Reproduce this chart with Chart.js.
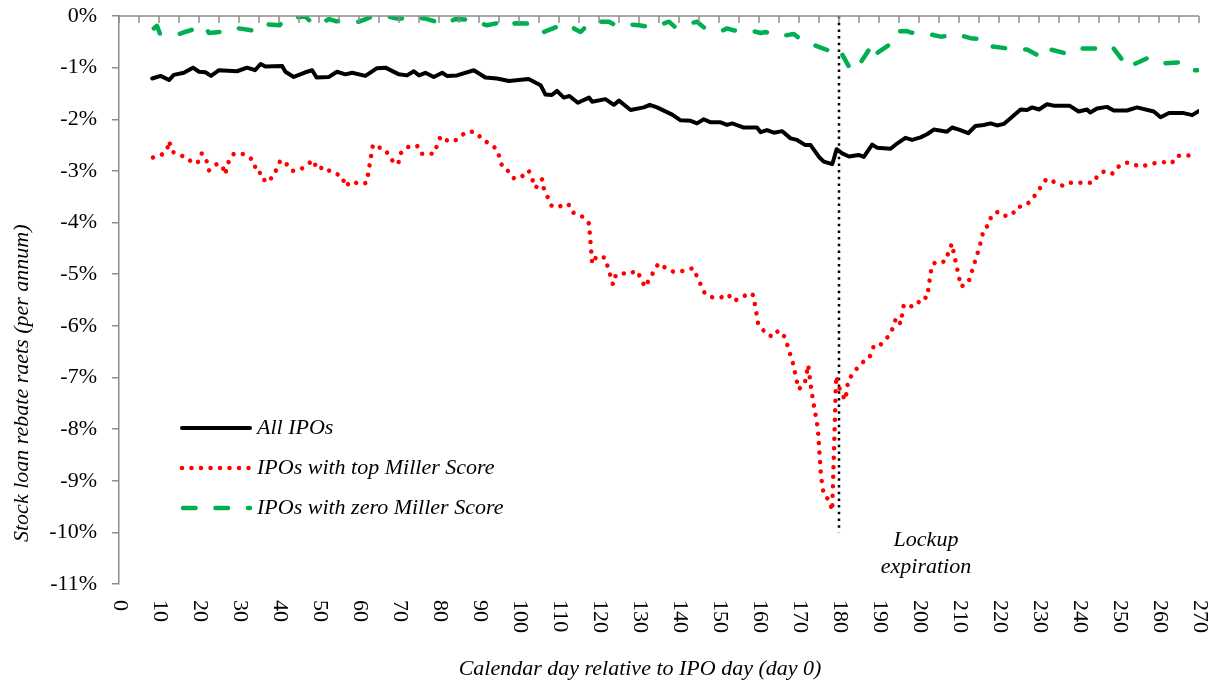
<!DOCTYPE html>
<html>
<head>
<meta charset="utf-8">
<script src="https://cdn.jsdelivr.net/npm/chart.js@4.4.1/dist/chart.umd.min.js"></script>
<style>
  html, body { margin: 0; padding: 0; background: #fff; }
  canvas { display: block; }
</style>
</head>
<body>
<canvas id="chart" width="1214" height="685"></canvas>
<script>
// All IPOs
var allDays = [8.3, 10.4, 12.5, 13.7, 16.2, 18.5, 20, 21.6, 23, 25, 29.5, 32, 34, 35.4, 36.6, 40.8, 41.6, 43.7, 46.6, 48.3,
  49.4, 52.5, 54.5, 56.6, 58.3, 61.6, 64.5, 66.6, 70, 72, 73.7, 75, 76.6, 78.7, 80.8, 82, 84.5, 88.7, 91.6, 94.5,
  97.5, 102.4, 105.4, 106.6, 108.2, 109.5, 111.2, 112.6, 114.7, 117.5, 118.3, 121.6, 123.7, 125, 127.9, 131.2, 132.7, 134.5, 138.3, 140.4,
  142.9, 144.5, 146.2, 147.9, 150.4, 152, 153.3, 156.2, 159.5, 160.4, 162, 163.7, 165.8, 167.9, 169.5, 171.6, 172.9, 175, 176.2, 178.3,
  178.7, 179.4, 180.8, 182.5, 184.9, 186.2, 188.3, 189.5, 192.9, 194.5, 196.6, 198.3, 200.4, 202, 203.7, 207, 208.3, 210, 212.3, 214.1,
  216.2, 217.9, 219.5, 221.2, 223.3, 225.4, 227, 228.3, 230, 232, 234, 237.7, 239.9, 242, 242.8, 244.5, 247, 248.7, 252, 254.5,
  258.7, 260.4, 262.5, 266.2, 268.3, 270];
var allRates = [-1.21, -1.16, -1.24, -1.14, -1.10, -1.00, -1.08, -1.09, -1.16, -1.05, -1.07, -1.00, -1.05, -0.93, -0.98, -0.97, -1.08, -1.18, -1.09, -1.05,
  -1.19, -1.18, -1.08, -1.13, -1.10, -1.16, -1.01, -1.00, -1.13, -1.15, -1.07, -1.15, -1.10, -1.18, -1.10, -1.16, -1.15, -1.05, -1.19, -1.21,
  -1.26, -1.22, -1.34, -1.52, -1.53, -1.45, -1.58, -1.55, -1.68, -1.58, -1.66, -1.61, -1.72, -1.64, -1.82, -1.77, -1.72, -1.77, -1.91, -2.02,
  -2.03, -2.08, -2.00, -2.06, -2.06, -2.11, -2.08, -2.16, -2.16, -2.25, -2.21, -2.26, -2.23, -2.37, -2.40, -2.50, -2.50, -2.73, -2.82, -2.87,
  -2.77, -2.58, -2.66, -2.72, -2.69, -2.73, -2.49, -2.55, -2.57, -2.47, -2.36, -2.40, -2.35, -2.29, -2.20, -2.24, -2.16, -2.20, -2.27, -2.13,
  -2.11, -2.08, -2.12, -2.09, -1.95, -1.81, -1.82, -1.77, -1.81, -1.71, -1.74, -1.74, -1.85, -1.81, -1.87, -1.79, -1.76, -1.83, -1.83, -1.77,
  -1.85, -1.96, -1.88, -1.88, -1.92, -1.84];

// IPOs with top Miller Score
var topDays = [8.5, 10.6, 12, 12.5, 13.4, 15, 17, 18.5, 20, 20.7, 21.9, 22.5, 24.4, 25.8, 26.5, 27.5, 28.7, 30.6, 32.7, 33.9,
  34.2, 35.9, 36.5, 38.5, 40.4, 41.7, 43.3, 45.4, 47, 48.6, 49.5, 51.5, 53, 54.8, 55.9, 56.5, 58.2, 60.4, 61.9, 63.5,
  64.3, 66.5, 67.7, 69.1, 69.9, 70.4, 72, 74.5, 75.6, 77.5, 78.7, 80.4, 82, 83.8, 85.4, 87.4, 89.4, 91, 93, 94.6,
  95.9, 97.7, 98.8, 100.7, 102.4, 104.2, 105.1, 105.8, 106.2, 108.1, 109.8, 111.4, 112.8, 113.7, 116, 117.5, 118.3, 119.4, 121.5, 123.5,
  124.2, 125.4, 127.4, 129.4, 130.5, 131.5, 133.9, 134.9, 136.7, 138.5, 140, 141.6, 143.5, 146.5, 148.4, 150.5, 152.3, 153.5, 155.6, 157.6,
  158.6, 159.8, 160.9, 162.1, 163.7, 164.8, 166.5, 168.5, 169.9, 171.4, 172.3, 173.1, 174.7, 175.5, 176.2, 177.5, 178.3, 179.3, 180.3, 181.6,
  182.3, 183.5, 184.8, 186, 187.5, 188.7, 190, 191.5, 192.9, 194.3, 195.4, 196.2, 197.2, 199.4, 200.6, 202, 203.2, 204.4, 206.5, 208.2,
  210.5, 212.3, 215.1, 216.2, 217.5, 218.1, 219.8, 221.4, 223.3, 224.5, 226.4, 228, 231.9, 234, 236, 237.6, 243.6, 244.8, 246.6, 248.4,
  249.8, 251.6, 253, 255.2, 257.3, 259, 261.2, 263.2, 264.4, 266.2, 268.7];
var topRates = [-2.74, -2.69, -2.60, -2.42, -2.63, -2.69, -2.74, -2.86, -2.82, -2.66, -2.81, -2.99, -2.87, -2.89, -3.07, -2.80, -2.67, -2.66, -2.74, -2.84,
  -3.02, -3.05, -3.22, -3.12, -2.79, -2.85, -3.00, -2.97, -2.88, -2.79, -2.97, -2.92, -3.03, -3.07, -3.12, -3.30, -3.20, -3.26, -3.23, -2.49,
  -2.53, -2.58, -2.73, -2.88, -2.83, -2.66, -2.54, -2.51, -2.67, -2.66, -2.67, -2.33, -2.41, -2.43, -2.32, -2.23, -2.26, -2.41, -2.48, -2.60,
  -2.94, -3.02, -3.15, -3.11, -2.99, -3.33, -3.21, -3.16, -3.34, -3.67, -3.71, -3.63, -3.67, -3.82, -3.89, -4.02, -4.80, -4.65, -4.68, -5.20,
  -5.02, -4.98, -5.00, -4.93, -5.08, -5.25, -4.92, -4.79, -4.88, -4.95, -4.95, -4.93, -4.88, -5.38, -5.45, -5.45, -5.39, -5.52, -5.46, -5.36,
  -5.41, -5.96, -6.07, -6.18, -6.21, -6.09, -6.22, -6.73, -7.23, -7.13, -6.76, -7.25, -7.98, -8.91, -9.28, -9.37, -9.58, -6.97, -7.26, -7.44,
  -7.05, -6.93, -6.79, -6.70, -6.64, -6.39, -6.40, -6.27, -6.16, -5.84, -5.96, -5.59, -5.63, -5.61, -5.45, -5.46, -4.83, -4.75, -4.76, -4.41,
  -5.24, -5.17, -4.48, -4.13, -4.04, -3.86, -3.79, -3.87, -3.85, -3.70, -3.68, -3.58, -3.15, -3.22, -3.29, -3.23, -3.23, -3.07, -3.00, -3.05,
  -2.92, -2.84, -2.85, -2.92, -2.88, -2.85, -2.83, -2.85, -2.71, -2.70, -2.70];

// IPOs with zero Miller Score
var zeroDays = [8.7, 9.5, 10.2, 13.7, 15, 16.9, 20.6, 21.4, 22.5, 26.2, 27.9, 30, 33.3, 34.1, 36.2, 40.2, 40.8, 42, 46.6, 47.9,
  49.5, 52.5, 54.2, 55.8, 60, 62, 62.9, 67, 69.5, 74.5, 76.6, 77.9, 81.2, 84.1, 89.1, 90.4, 92, 96.2, 97.5, 99.1,
  103.3, 105, 106.2, 109.1, 111.6, 115.4, 117.9, 122.5, 124.1, 125.8, 130, 133.3, 137.5, 139.1, 144.5, 146.2, 150.4, 152, 153.7, 157.9,
  160.4, 161.7, 165, 167, 168.7, 171.2, 173.7, 177.1, 178, 180.4, 182.5, 184.5, 185, 186.6, 188.5, 189.5, 192.5, 194.5, 197, 197.9,
  202, 205.4, 209.6, 212.9, 217.1, 218.3, 223.3, 227, 230.4, 232, 237, 240, 244.5, 248.3, 250.8, 252.5, 253.3, 257, 259.9, 265,
  267.5, 269.6];
var zeroRates = [-0.24, -0.19, -0.34, -0.33, -0.35, -0.30, -0.21, -0.19, -0.33, -0.30, -0.25, -0.24, -0.28, -0.19, -0.16, -0.18, -0.11, -0.05, -0.01, -0.11,
  -0.18, -0.06, -0.10, -0.11, -0.11, -0.05, -0.02, 0, -0.05, -0.04, -0.05, -0.08, -0.16, -0.06, -0.08, -0.14, -0.18, -0.11, -0.18, -0.14,
  -0.15, -0.22, -0.31, -0.22, -0.15, -0.31, -0.11, -0.11, -0.18, -0.15, -0.18, -0.22, -0.11, -0.22, -0.11, -0.22, -0.30, -0.24, -0.28, -0.28,
  -0.33, -0.31, -0.39, -0.37, -0.35, -0.50, -0.56, -0.66, -0.59, -0.69, -0.98, -1.05, -0.95, -0.76, -0.53, -0.72, -0.56, -0.30, -0.29, -0.32,
  -0.34, -0.40, -0.36, -0.43, -0.46, -0.59, -0.64, -0.65, -0.79, -0.63, -0.73, -0.63, -0.63, -0.59, -0.85, -1.01, -0.95, -0.82, -0.92, -0.90,
  -1.06, -1.05];

var seriesNames = ['All IPOs', 'IPOs with top Miller Score', 'IPOs with zero Miller Score'];
var lockupDay = 180;
var lockupSpan = [0, -10];
var lockupText = ['Lockup', 'expiration'];
var xTitle = 'Calendar day relative to IPO day (day 0)';
var yTitle = 'Stock loan rebate raets (per annum)';

var axisGray = '#8c8c8c';
var serif = '"Liberation Serif", "Times New Roman", serif';

function pairs(days, vals) {
  var out = [];
  for (var i = 0; i < days.length; i++) {
    out.push({ x: days[i], y: vals[i] });
  }
  return out;
}

var extras = {
  id: 'extras',
  afterDraw: function (chart) {
    var ctx = chart.ctx;
    var a = chart.chartArea;
    var xs = chart.scales.x;
    ctx.save();

    // horizontal axis sits on the 0% line, ticks point down
    ctx.strokeStyle = axisGray;
    ctx.lineWidth = 1.5;
    ctx.beginPath();
    ctx.moveTo(a.left, a.top);
    ctx.lineTo(a.right, a.top);
    ctx.stroke();
    xs.ticks.forEach(function (t) {
      var px = xs.getPixelForValue(t.value);
      ctx.beginPath();
      ctx.moveTo(px, a.top);
      ctx.lineTo(px, a.top + 7);
      ctx.stroke();
    });

    // day labels, turned clockwise, under the plot
    ctx.fillStyle = '#000';
    ctx.font = '22px ' + serif;
    ctx.textAlign = 'left';
    ctx.textBaseline = 'middle';
    xs.ticks.forEach(function (t) {
      if (t.value % 10 !== 0) return;
      var px = xs.getPixelForValue(t.value);
      ctx.save();
      ctx.translate(px + 1, a.bottom + 16);
      ctx.rotate(Math.PI / 2);
      ctx.fillText(String(t.value), 0, 0);
      ctx.restore();
    });

    // axis titles
    ctx.font = 'italic 22px ' + serif;
    ctx.textAlign = 'center';
    ctx.fillText(xTitle, 640, 669);
    var yw = ctx.measureText(yTitle).width;
    ctx.save();
    ctx.translate(22, 542 - yw / 2);
    ctx.rotate(-Math.PI / 2);
    ctx.fillText(yTitle, 0, 0);
    ctx.restore();

    // lockup note
    var lx = xs.getPixelForValue(lockupDay) + 87;
    ctx.fillText(lockupText[0], lx, 540);
    ctx.fillText(lockupText[1], lx, 567);

    // legend inside the plot
    ctx.textAlign = 'left';
    for (var i = 0; i < 3; i++) {
      var ds = chart.data.datasets[i];
      var ly = 428 + i * 40;
      ctx.save();
      ctx.strokeStyle = ds.borderColor;
      ctx.lineWidth = ds.borderWidth;
      ctx.lineCap = ds.borderCapStyle;
      ctx.setLineDash(ds.borderDash);
      ctx.beginPath();
      ctx.moveTo(i === 2 ? 183 : 182, ly);
      ctx.lineTo(250, ly);
      ctx.stroke();
      ctx.restore();
      ctx.fillText(ds.label, 257, ly);
    }
    ctx.restore();
  }
};

new Chart(document.getElementById('chart'), {
  type: 'line',
  data: {
    datasets: [
      {
        label: seriesNames[0],
        data: pairs(allDays, allRates),
        borderColor: '#000000',
        borderWidth: 4,
        borderDash: [],
        borderCapStyle: 'round',
        borderJoinStyle: 'round',
        pointRadius: 0,
        tension: 0
      },
      {
        label: seriesNames[1],
        data: pairs(topDays, topRates),
        borderColor: '#ff0000',
        borderWidth: 4.5,
        borderDash: [0.001, 9.5],
        borderCapStyle: 'round',
        borderJoinStyle: 'round',
        pointRadius: 0,
        tension: 0
      },
      {
        label: seriesNames[2],
        data: pairs(zeroDays, zeroRates),
        borderColor: '#00b050',
        borderWidth: 4.5,
        borderDash: [12.5, 20],
        borderCapStyle: 'round',
        borderJoinStyle: 'round',
        pointRadius: 0,
        tension: 0
      },
      {
        label: 'lockup',
        data: [{ x: lockupDay, y: lockupSpan[0] }, { x: lockupDay, y: lockupSpan[1] }],
        borderColor: '#000000',
        borderWidth: 2.5,
        borderDash: [2.5, 4.2],
        borderCapStyle: 'butt',
        pointRadius: 0
      }
    ]
  },
  options: {
    responsive: false,
    animation: false,
    layout: { padding: { top: 16, right: 15, left: 0, bottom: 0 } },
    plugins: {
      legend: { display: false },
      tooltip: { enabled: false }
    },
    scales: {
      x: {
        type: 'linear',
        min: 0,
        max: 270,
        ticks: { display: false, stepSize: 5 },
        grid: { display: false },
        border: { display: false },
        afterFit: function (s) {
          s.height = 101;
          s.paddingLeft = 0;
          s.paddingRight = 0;
        }
      },
      y: {
        min: -11,
        max: 0,
        ticks: {
          stepSize: 1,
          padding: 15,
          color: '#000',
          font: { family: serif, size: 22 },
          callback: function (v) { return v + '%'; }
        },
        grid: { drawOnChartArea: false, tickLength: 7, color: axisGray, lineWidth: 1.5 },
        border: { color: axisGray, width: 1.5 },
        afterFit: function (s) {
          s.width = 119;
          s.paddingTop = 0;
          s.paddingBottom = 0;
        }
      }
    }
  },
  plugins: [extras]
});
</script>
</body>
</html>
